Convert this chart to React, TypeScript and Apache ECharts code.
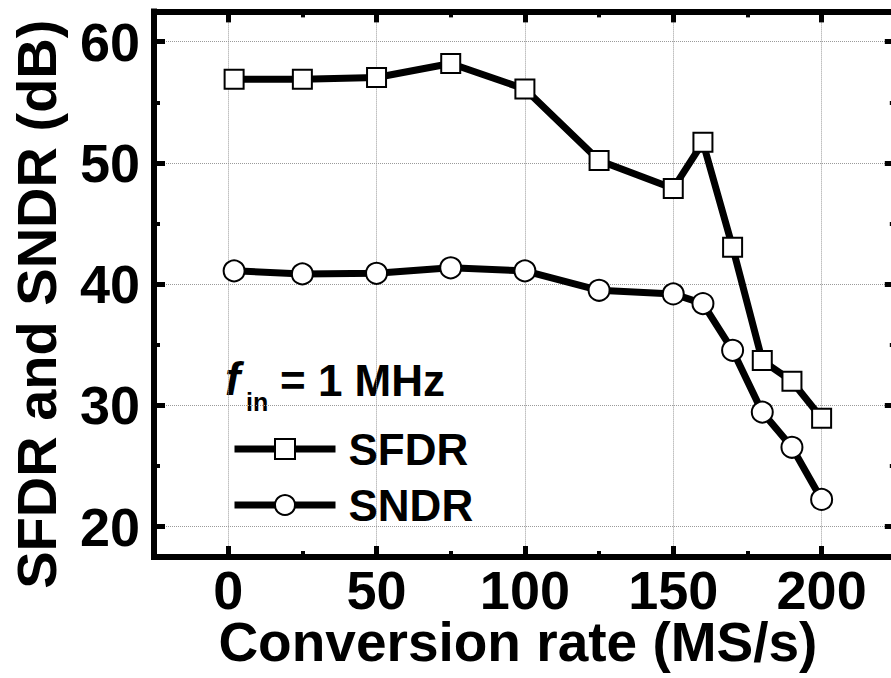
import React, { useEffect, useRef } from "react";
import * as echarts from "echarts";

// ---- data ----
const rate = [2, 25, 50, 75, 100, 125, 150, 160, 170, 180, 190, 200];
const sfdr = [56.9, 56.9, 57.05, 58.2, 56.1, 50.2, 47.9, 51.7, 43.05, 33.7, 32.0, 28.95];
const sndr = [41.1, 40.85, 40.9, 41.35, 41.1, 39.5, 39.2, 38.4, 34.55, 29.45, 26.55, 22.25];

const xMajor = [0, 50, 100, 150, 200];
const xMinor = [25, 75, 125, 175];
const yMajor = [20, 30, 40, 50, 60];
const yMinor = [25, 35, 45, 55];

const X_MIN = -25;
const X_MAX = 225;
const Y_MIN = 17.5;
const Y_MAX = 62.5;

const FONT = '"Liberation Sans", Arial, Helvetica, sans-serif';
const AXIS_W = 6;

function frameAxis(kind: "x" | "y", position: string, ticks: number[], len: number, w: number, showLine: boolean) {
  return {
    type: "value",
    position,
    min: kind === "x" ? X_MIN : Y_MIN,
    max: kind === "x" ? X_MAX : Y_MAX,
    axisLine: { show: showLine, onZero: false, lineStyle: { color: "#000", width: AXIS_W, cap: "square" } },
    axisTick: { show: true, inside: true, length: len, customValues: ticks, lineStyle: { color: "#000", width: w } },
    axisLabel: { show: false },
    splitLine: { show: false },
    silent: true,
  };
}

export default function App() {
  const ref = useRef<HTMLDivElement>(null);

  useEffect(() => {
    document.body.style.margin = "0";
    const chart = echarts.init(ref.current!, undefined, { renderer: "svg" });
    const points = (ys: number[]) => rate.map((x, i) => [x, ys[i]]);
    const gridLine = { show: true, lineStyle: { color: "#9a9a9a", width: 1, type: "dotted" } };
    const labelStyle = { fontSize: 54, fontWeight: "bold", color: "#000", fontFamily: FONT };

    const option: any = {
      animation: false,
      backgroundColor: "#fff",
      textStyle: { fontFamily: FONT },
      grid: {
        left: 154,
        top: 11.4,
        width: 741.8,
        height: 545.6,
        containLabel: false,
        outerBoundsMode: "none",
      },
      xAxis: [
        {
          type: "value",
          position: "bottom",
          min: X_MIN,
          max: X_MAX,
          name: "Conversion rate (MS/s)",
          nameLocation: "middle",
          nameGap: 57,
          nameMoveOverlap: false,
          nameTextStyle: {
            fontSize: 55,
            fontWeight: "bold",
            color: "#000",
            fontFamily: FONT,
            padding: [0, 14, 0, 0],
          },
          axisLine: { show: true, onZero: false, lineStyle: { color: "#000", width: AXIS_W, cap: "square" } },
          axisTick: { show: true, inside: true, length: 11, customValues: xMajor, lineStyle: { color: "#000", width: 5 } },
          axisLabel: { show: true, customValues: xMajor, margin: 6, ...labelStyle },
          splitLine: gridLine,
        },
        frameAxis("x", "bottom", xMinor, 6, 4, false),
        frameAxis("x", "top", xMajor, 11, 5, true),
        frameAxis("x", "top", xMinor, 6, 4, false),
      ],
      yAxis: [
        {
          type: "value",
          position: "left",
          min: Y_MIN,
          max: Y_MAX,
          name: "SFDR and SNDR (dB)",
          nameLocation: "middle",
          nameGap: 90,
          nameMoveOverlap: false,
          nameTextStyle: {
            fontSize: 56,
            fontWeight: "bold",
            color: "#000",
            fontFamily: FONT,
            padding: [0, 40, 0, 0],
          },
          axisLine: { show: true, onZero: false, lineStyle: { color: "#000", width: AXIS_W, cap: "square" } },
          axisTick: { show: true, inside: true, length: 11, customValues: yMajor, lineStyle: { color: "#000", width: 5 } },
          axisLabel: { show: true, customValues: yMajor, margin: 14, ...labelStyle },
          splitLine: gridLine,
        },
        frameAxis("y", "left", yMinor, 6, 4, false),
        frameAxis("y", "right", yMajor, 11, 5, true),
        frameAxis("y", "right", yMinor, 6, 4, false),
      ],
      legend: {
        show: true,
        orient: "vertical",
        left: 231,
        top: 427,
        padding: 0,
        itemWidth: 101,
        itemHeight: 25,
        itemGap: 12,
        data: ["SFDR", "SNDR"],
        lineStyle: { width: 7, color: "#000" },
        itemStyle: { borderWidth: 2, borderColor: "#000", color: "#fff" },
        textStyle: { fontSize: 44, fontWeight: "bold", color: "#000", fontFamily: FONT, padding: [0, 0, 0, 8] },
      },
      graphic: [
        {
          type: "text",
          left: 225,
          top: 356,
          style: { text: "f", font: `italic bold 46px ${FONT}`, fill: "#000" },
        },
        {
          type: "text",
          left: 246,
          top: 389,
          style: { text: "in", font: `bold 25px ${FONT}`, fill: "#000" },
        },
        {
          type: "text",
          left: 280,
          top: 358,
          style: { text: "= 1 MHz", font: `bold 44px ${FONT}`, fill: "#000" },
        },
      ],
      series: [
        {
          name: "SFDR",
          type: "line",
          xAxisIndex: 0,
          yAxisIndex: 0,
          data: points(sfdr),
          symbol: "rect",
          symbolSize: 19,
          lineStyle: { color: "#000", width: 7 },
          itemStyle: { color: "#fff", borderColor: "#000", borderWidth: 2 },
          z: 5,
        },
        {
          name: "SNDR",
          type: "line",
          xAxisIndex: 0,
          yAxisIndex: 0,
          data: points(sndr),
          symbol: "circle",
          symbolSize: 21,
          lineStyle: { color: "#000", width: 7 },
          itemStyle: { color: "#fff", borderColor: "#000", borderWidth: 2 },
          z: 5,
        },
      ],
    };

    chart.setOption(option);
    return () => chart.dispose();
  }, []);

  return <div ref={ref} style={{ width: 891, height: 678 }} />;
}
